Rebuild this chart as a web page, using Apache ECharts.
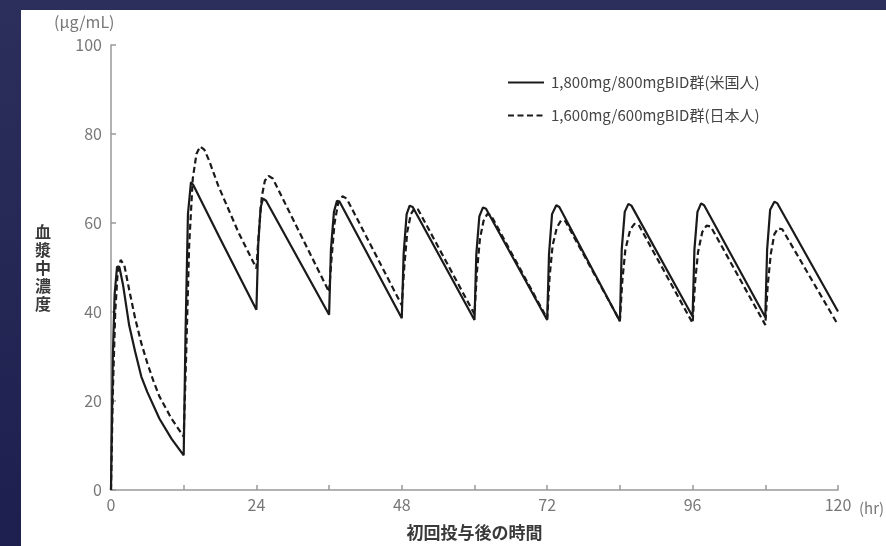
<!DOCTYPE html>
<html>
<head>
<meta charset="utf-8">
<script src="https://cdn.jsdelivr.net/npm/echarts@6/dist/echarts.min.js"></script>
<style>
html,body{margin:0;padding:0;background:#2a2c5a;}
#chart{width:886px;height:546px;}
</style>
</head>
<body>
<div id="chart"></div>
<script>
// ---- data ----
var seriesNames = ['1,800mg/800mgBID群(米国人)', '1,600mg/600mgBID群(日本人)'];
var xTickLabels = [0, 24, 48, 72, 96, 120];
var yTickLabels = [0, 20, 40, 60, 80, 100];

var timeUS = [0, 0.3, 0.6, 1.0, 1.4, 2, 3, 4, 5, 6, 8, 10, 12,
  12.3, 12.7, 13.2, 13.6, 18, 24,
  24.3, 24.7, 25.1, 25.6, 36,
  36.3, 36.8, 37.3, 37.8, 48,
  48.3, 48.8, 49.3, 49.8, 60,
  60.3, 60.8, 61.4, 61.9, 72,
  72.3, 72.8, 73.5, 74, 84,
  84.3, 84.8, 85.4, 85.9, 96,
  96.3, 96.8, 97.4, 97.9, 108,
  108.3, 108.8, 109.5, 110, 120];
var concUS = [0, 30, 44, 50.2, 50, 46, 37, 31, 25.5, 22, 16, 11.5, 7.8,
  35, 62, 69.2, 68.5, 56.5, 40.5,
  55, 63.5, 65.5, 65, 39.4,
  54, 62.5, 65, 64.6, 38.6,
  53, 62, 63.9, 63.6, 38.2,
  53, 61.5, 63.5, 63.2, 38.2,
  53, 62, 64, 63.6, 37.9,
  54, 62.5, 64.3, 63.9, 39,
  54, 62.5, 64.4, 64, 38.8,
  54, 63, 64.8, 64.4, 40.1];

var timeJP = [0, 0.3, 0.7, 1.1, 1.6, 2.2, 3, 4, 5, 6, 7, 8, 10, 12,
  12.4, 12.9, 13.5, 14.1, 14.7, 15.4, 16.2, 17.7, 21, 24,
  24.4, 24.9, 25.4, 26, 26.7, 36,
  36.4, 36.9, 37.5, 38.2, 38.9, 48,
  48.4, 48.9, 49.5, 50.1, 50.7, 60,
  60.4, 60.9, 61.5, 62.1, 62.7, 72,
  72.4, 72.9, 73.6, 74.3, 75, 84,
  84.4, 84.9, 85.7, 86.4, 87.1, 96,
  96.4, 96.9, 97.6, 98.3, 99, 108,
  108.4, 108.9, 109.5, 110.1, 110.8, 120];
var concJP = [0, 22, 40, 49, 51.7, 50.5, 45, 38.5, 33, 28.5, 24.5, 21, 16, 12,
  30, 55, 70, 75.5, 77.2, 76.5, 74, 68.4, 58, 49.8,
  58, 66, 69.5, 70.6, 70, 44.5,
  52, 60, 64.5, 66, 65.5, 41.5,
  50, 58, 62, 63.3, 63, 39.5,
  49, 56.5, 60.5, 62, 61.8, 38.5,
  48, 55, 59, 60.6, 60.4, 38,
  47, 54, 58.5, 59.8, 59.6, 37.5,
  46.5, 53.5, 58, 59.4, 59.2, 37.1,
  46, 53, 57.5, 58.8, 58.6, 37.1];

function pairs(t, c) { return t.map(function (v, i) { return [v, c[i]]; }); }

var FONT = '"Noto Sans CJK JP", "Noto Sans", sans-serif';
var chart = echarts.init(document.getElementById('chart'), null, {renderer: 'canvas'});
chart.setOption({
  animation: false,
  backgroundColor: new echarts.graphic.LinearGradient(0, 0, 0, 1, [
    {offset: 0, color: '#2c2e5c'}, {offset: 1, color: '#1d1f4e'}
  ]),
  textStyle: {fontFamily: FONT},
  graphic: [
    {type: 'rect', z: -100, shape: {x: 21, y: 10, width: 865, height: 536}, style: {fill: '#ffffff'}},
    {type: 'text', x: 54, y: 22, style: {text: '(μg/mL)', fill: '#777', font: '16px ' + FONT, textAlign: 'left', textVerticalAlign: 'middle'}},
    {type: 'text', x: 859, y: 508, style: {text: '(hr)', fill: '#777', font: '15px ' + FONT, textAlign: 'left', textVerticalAlign: 'middle'}},
    {type: 'text', x: 43, y: 268, style: {text: '血\n漿\n中\n濃\n度', fill: '#3a3a3a', font: 'bold 16px ' + FONT, lineHeight: 18, textAlign: 'center', textVerticalAlign: 'middle'}}
  ],
  grid: {left: 111, right: 48, top: 45, bottom: 53, containLabel: false},
  legend: {
    orient: 'vertical', left: 502, top: 70, itemWidth: 36, itemHeight: 14, itemGap: 18,
    itemStyle: {opacity: 0, borderWidth: 0},
    textStyle: {fontSize: 15, color: '#444', fontFamily: FONT, padding: [0, 0, 0, 2]},
    data: seriesNames
  },
  xAxis: {
    type: 'value', min: 0, max: 120, interval: 12,
    name: '初回投与後の時間', nameLocation: 'middle', nameGap: 34,
    nameTextStyle: {fontSize: 17, fontWeight: 'bold', color: '#3a3a3a', fontFamily: FONT, verticalAlign: 'top'},
    axisLine: {lineStyle: {color: '#999', width: 1.5}},
    axisTick: {inside: true, length: 5, lineStyle: {color: '#999', width: 1.5}},
    axisLabel: {color: '#777', fontSize: 16, margin: 7, fontFamily: FONT,
      formatter: function (v) { return xTickLabels.indexOf(v) >= 0 ? String(v) : ''; }},
    splitLine: {show: false}
  },
  yAxis: {
    type: 'value', min: 0, max: 100, interval: 20,
    axisLine: {show: true, lineStyle: {color: '#999', width: 1.5}},
    axisTick: {show: true, inside: true, length: 5, lineStyle: {color: '#999', width: 1.5}},
    axisLabel: {color: '#777', fontSize: 16, margin: 9, fontFamily: FONT,
      formatter: function (v) { return yTickLabels.indexOf(v) >= 0 ? String(v) : ''; }},
    splitLine: {show: false}
  },
  series: [
    {name: seriesNames[0], type: 'line', data: pairs(timeUS, concUS), symbol: 'none', smooth: false,
      lineStyle: {color: '#1a1a1a', width: 2.2, type: 'solid'}, itemStyle: {color: '#1a1a1a'}},
    {name: seriesNames[1], type: 'line', data: pairs(timeJP, concJP), symbol: 'none', smooth: false,
      lineStyle: {color: '#1a1a1a', width: 2.2, type: [6, 3.5]}, itemStyle: {color: '#1a1a1a'}}
  ]
});
</script>
</body>
</html>
